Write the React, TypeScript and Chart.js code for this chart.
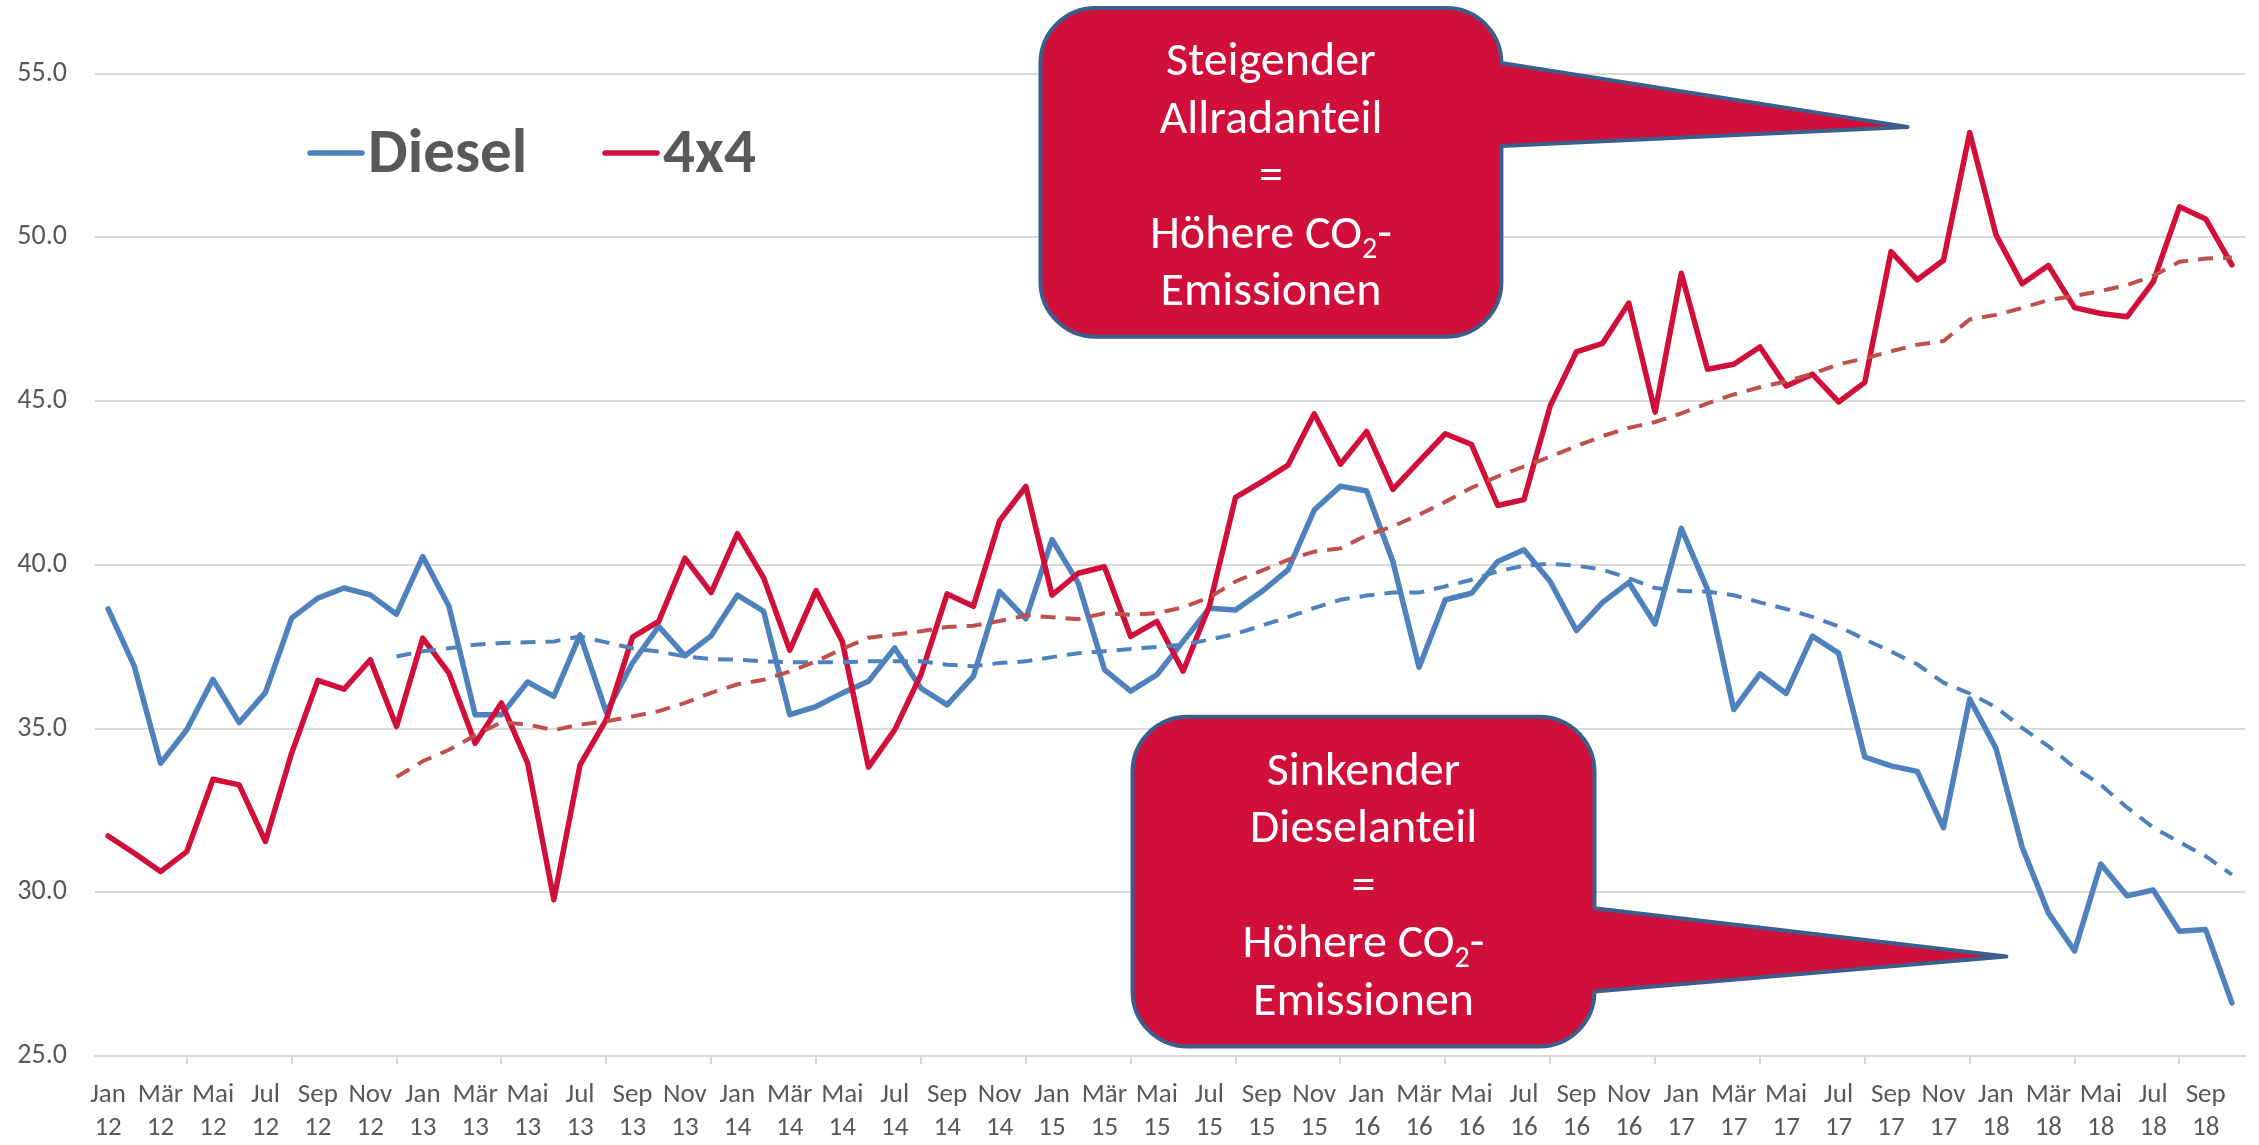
import React, { useEffect, useRef } from 'react';
import { Chart, registerables } from 'chart.js';

Chart.register(...registerables);

// ---------- data ----------
const MONTHS = ['Jan', 'Feb', 'Mär', 'Apr', 'Mai', 'Jun', 'Jul', 'Aug', 'Sep', 'Okt', 'Nov', 'Dez'];
const YEARS = ['12', '13', '14', '15', '16', '17', '18'];
const LAST_MONTH_2018 = 10; // Jan 12 .. Okt 18

const CATEGORIES: string[][] = [];
YEARS.forEach((yr, yi) => {
  MONTHS.forEach((m, mi) => {
    if (yi === YEARS.length - 1 && mi >= LAST_MONTH_2018) return;
    CATEGORIES.push([m, yr]);
  });
});

const DIESEL = [
  38.65, 36.9, 33.94, 34.96, 36.5, 35.18, 36.1, 38.37, 38.98, 39.29, 39.08, 38.49,
  40.25, 38.73, 35.42, 35.42, 36.42, 35.98, 37.86, 35.49, 37.0, 38.12, 37.22, 37.83,
  39.07, 38.58, 35.42, 35.67, 36.08, 36.44, 37.46, 36.23, 35.72, 36.59, 39.19, 38.35,
  40.77, 39.44, 36.8, 36.14, 36.64, 37.66, 38.67, 38.62, 39.18, 39.84, 41.67, 42.4,
  42.25, 40.1, 36.87, 38.93, 39.13, 40.1, 40.46, 39.49, 37.99, 38.85, 39.46, 38.19,
  41.11, 39.25, 35.58, 36.67, 36.07, 37.82, 37.3, 34.13, 33.86, 33.69, 31.97, 35.9,
  34.4, 31.38, 29.37, 28.21, 30.86, 29.89, 30.07, 28.81, 28.86, 26.62,
];

const ALLRAD = [
  31.72, 31.19, 30.63, 31.24, 33.45, 33.28, 31.55, 34.25, 36.47, 36.2, 37.1, 35.06,
  37.76, 36.69, 34.55, 35.78, 33.94, 29.77, 33.89, 35.27, 37.79, 38.27, 40.2, 39.15,
  40.95, 39.6, 37.39, 39.21, 37.66, 33.82, 34.96, 36.64, 39.11, 38.73, 41.34, 42.39,
  39.07, 39.74, 39.94, 37.81, 38.27, 36.75, 38.73, 42.06, 42.53, 43.04, 44.61, 43.07,
  44.07, 42.3, 43.16, 44.0, 43.67, 41.81, 41.99, 44.85, 46.5, 46.76, 47.99, 44.66,
  48.9, 45.97, 46.12, 46.65, 45.46, 45.82, 44.97, 45.57, 49.56, 48.7, 49.3, 53.2,
  50.08, 48.58, 49.14, 47.85, 47.67, 47.57, 48.64, 50.93, 50.56, 49.16,
];

// 12-month moving-average trend lines
const DIESEL_TREND = [
  null, null, null, null, null, null, null, null, null, null, null, 37.2,
  37.36, 37.45, 37.56, 37.61, 37.63, 37.66, 37.81, 37.63, 37.45, 37.35, 37.2, 37.12,
  37.1, 37.05, 37.02, 37.02, 37.02, 37.05, 37.05, 37.05, 36.95, 36.9, 37.0, 37.05,
  37.18, 37.3, 37.36, 37.43, 37.49, 37.56, 37.71, 37.89, 38.14, 38.4, 38.68, 38.93,
  39.06, 39.15, 39.15, 39.34, 39.54, 39.8, 39.97, 40.03, 39.97, 39.85, 39.59, 39.29,
  39.2, 39.18, 39.07, 38.85, 38.65, 38.41, 38.12, 37.72, 37.35, 36.96, 36.4, 36.07,
  35.65, 35.02, 34.46, 33.81, 33.28, 32.59, 31.98, 31.53, 31.1, 30.54,
];

const ALLRAD_TREND = [
  null, null, null, null, null, null, null, null, null, null, null, 33.52,
  34.0, 34.35, 34.79, 35.19, 35.12, 34.95, 35.12, 35.22, 35.37, 35.53, 35.78, 36.09,
  36.35, 36.49, 36.74, 37.05, 37.43, 37.77, 37.87, 37.97, 38.1, 38.14, 38.28, 38.45,
  38.4, 38.34, 38.52, 38.47, 38.52, 38.7, 39.0, 39.49, 39.82, 40.15, 40.4, 40.5,
  40.9, 41.17, 41.53, 41.92, 42.35, 42.7, 43.0, 43.3, 43.62, 43.93, 44.18, 44.36,
  44.62, 44.93, 45.2, 45.42, 45.6, 45.83, 46.12, 46.3, 46.52, 46.72, 46.83, 47.49,
  47.63, 47.84, 48.08, 48.21, 48.36, 48.54, 48.82, 49.25, 49.35, 49.38,
];

const Y_MIN = 25;
const Y_MAX = 55;
const Y_STEP = 5;

const CALLOUT_TOP_LINES = ['Steigender', 'Allradanteil', '=', 'Höhere CO|2|-', 'Emissionen'];
const CALLOUT_BOTTOM_LINES = ['Sinkender', 'Dieselanteil', '=', 'Höhere CO|2|-', 'Emissionen'];

// ---------- styling ----------
const FONT = "Carlito, 'Liberation Sans Narrow', 'DejaVu Sans Condensed', 'Open Sans', sans-serif";
const BLUE = '#4F81BD';
const CRIMSON = '#D0103A';
const TREND_RED = '#C0504D';
const TEXT_GRAY = '#595959';
const GRID_GRAY = '#D9D9D9';
const CALLOUT_EDGE = '#3A5F8C';

// callout geometry in data units (x = category index, y = value)
const CALLOUTS = [
  { lines: CALLOUT_TOP_LINES, x0: 35.56, x1: 53.14, yTop: 57.0, yBottom: 46.96, wedgeTop: 55.32, wedgeBottom: 52.79, tipX: 68.63, tipY: 53.37 },
  { lines: CALLOUT_BOTTOM_LINES, x0: 39.07, x1: 56.69, yTop: 35.36, yBottom: 25.29, wedgeTop: 29.51, wedgeBottom: 26.95, tipX: 72.4, tipY: 28.04 },
];

const calloutPlugin = {
  id: 'callouts',
  afterDatasetsDraw(chart: any) {
    const { ctx } = chart;
    const xs = chart.scales.x;
    const ys = chart.scales.y;
    for (const c of CALLOUTS) {
      const left = xs.getPixelForValue(c.x0);
      const right = xs.getPixelForValue(c.x1);
      const top = ys.getPixelForValue(c.yTop);
      const bottom = ys.getPixelForValue(c.yBottom);
      const wt = ys.getPixelForValue(c.wedgeTop);
      const wb = ys.getPixelForValue(c.wedgeBottom);
      const tx = xs.getPixelForValue(c.tipX);
      const ty = ys.getPixelForValue(c.tipY);
      const r = 55;
      ctx.save();
      ctx.beginPath();
      ctx.moveTo(left + r, top);
      ctx.lineTo(right - r, top);
      ctx.arcTo(right, top, right, top + r, r);
      ctx.lineTo(right, Math.max(top + r, wt));
      ctx.lineTo(tx, ty);
      ctx.lineTo(right, Math.min(bottom - r, wb));
      ctx.lineTo(right, bottom - r);
      ctx.arcTo(right, bottom, right - r, bottom, r);
      ctx.lineTo(left + r, bottom);
      ctx.arcTo(left, bottom, left, bottom - r, r);
      ctx.lineTo(left, top + r);
      ctx.arcTo(left, top, left + r, top, r);
      ctx.closePath();
      ctx.fillStyle = CRIMSON;
      ctx.fill();
      ctx.lineWidth = 4;
      ctx.lineJoin = 'round';
      ctx.strokeStyle = CALLOUT_EDGE;
      ctx.stroke();

      const cx = (left + right) / 2;
      const cy = (top + bottom) / 2;
      const lh = 57.5;
      const mainFont = `48px ${FONT}`;
      const subFont = `30px ${FONT}`;
      ctx.fillStyle = '#FFFFFF';
      ctx.textBaseline = 'alphabetic';
      ctx.textAlign = 'left';
      c.lines.forEach((line, k) => {
        const base = cy + (k - (c.lines.length - 1) / 2) * lh + 18;
        const parts = line.split('|');
        const widths = parts.map((p, pi) => {
          ctx.font = pi === 1 ? subFont : mainFont;
          return ctx.measureText(p).width;
        });
        let x = cx - widths.reduce((a, b) => a + b, 0) / 2;
        parts.forEach((p, pi) => {
          ctx.font = pi === 1 ? subFont : mainFont;
          ctx.fillText(p, x, pi === 1 ? base + 10 : base);
          x += widths[pi];
        });
      });
      ctx.restore();
    }
  },
};

const LEGEND_POS = [
  { x: 310, y: 153 },
  { x: 605, y: 153 },
];

const legendPlugin = {
  id: 'insideLegend',
  afterDraw(chart: any) {
    const { ctx } = chart;
    ctx.save();
    LEGEND_POS.forEach((p, i) => {
      const ds = chart.data.datasets[i];
      ctx.beginPath();
      ctx.moveTo(p.x, p.y);
      ctx.lineTo(p.x + 52, p.y);
      ctx.lineWidth = 5.5;
      ctx.lineCap = 'round';
      ctx.strokeStyle = ds.borderColor;
      ctx.stroke();
      ctx.font = `bold 63px ${FONT}`;
      ctx.fillStyle = TEXT_GRAY;
      ctx.textAlign = 'left';
      ctx.textBaseline = 'alphabetic';
      ctx.fillText(ds.label, p.x + 58, p.y + 19);
    });
    ctx.restore();
  },
};

export default function App() {
  const canvasRef = useRef<HTMLCanvasElement | null>(null);

  useEffect(() => {
    const canvas = canvasRef.current;
    if (!canvas) return;
    const chart = new Chart(canvas, {
      type: 'line',
      data: {
        labels: CATEGORIES,
        datasets: [
          {
            label: 'Diesel',
            data: DIESEL,
            borderColor: BLUE,
            backgroundColor: BLUE,
            borderWidth: 5.5,
            borderCapStyle: 'round',
            borderJoinStyle: 'round',
            pointRadius: 0,
            order: 3,
          },
          {
            label: '4x4',
            data: ALLRAD,
            borderColor: CRIMSON,
            backgroundColor: CRIMSON,
            borderWidth: 5.5,
            borderCapStyle: 'round',
            borderJoinStyle: 'round',
            pointRadius: 0,
            order: 2,
          },
          {
            label: 'Gleitender Durchschnitt (Diesel)',
            data: DIESEL_TREND,
            borderColor: BLUE,
            borderWidth: 4,
            borderDash: [15, 10],
            pointRadius: 0,
            order: 1,
          },
          {
            label: 'Gleitender Durchschnitt (4x4)',
            data: ALLRAD_TREND,
            borderColor: TREND_RED,
            borderWidth: 4,
            borderDash: [15, 10],
            pointRadius: 0,
            order: 0,
          },
        ] as any,
      },
      options: {
        animation: false,
        responsive: false,
        devicePixelRatio: 1,
        layout: { padding: { top: 73.5, right: 14, left: 0, bottom: 0 } },
        plugins: {
          legend: { display: false },
          tooltip: { enabled: false },
        },
        elements: { line: { tension: 0 }, point: { radius: 0 } },
        scales: {
          x: {
            type: 'category',
            offset: true,
            grid: {
              offset: true,
              drawOnChartArea: false,
              drawTicks: true,
              tickLength: 8,
              lineWidth: 2,
              color: (c: any) => (c.index % 2 === 0 ? GRID_GRAY : 'rgba(0,0,0,0)'),
            },
            border: { display: true, color: GRID_GRAY, width: 2 },
            ticks: {
              autoSkip: false,
              maxRotation: 0,
              minRotation: 0,
              padding: 15,
              color: TEXT_GRAY,
              font: { family: FONT, size: 27, lineHeight: 1.22 },
              callback: (_v: any, i: number) => (i % 2 === 0 ? CATEGORIES[i] : null),
            },
            afterFit: (s: any) => {
              s.height = 89;
            },
          },
          y: {
            min: Y_MIN,
            max: Y_MAX,
            ticks: {
              stepSize: Y_STEP,
              padding: 28,
              color: TEXT_GRAY,
              font: { family: FONT, size: 28 },
              callback: (v: any) => Number(v).toFixed(1),
            },
            grid: { color: GRID_GRAY, lineWidth: 2, drawTicks: false },
            border: { display: false },
            afterFit: (s: any) => {
              s.width = 95;
            },
          },
        },
      } as any,
      plugins: [calloutPlugin, legendPlugin],
    });
    return () => chart.destroy();
  }, []);

  return (
    <div style={{ position: 'absolute', left: 0, top: 0, width: 2259, height: 1145, background: '#fff' }}>
      <canvas ref={canvasRef} width={2259} height={1145} style={{ display: 'block' }} />
    </div>
  );
}
